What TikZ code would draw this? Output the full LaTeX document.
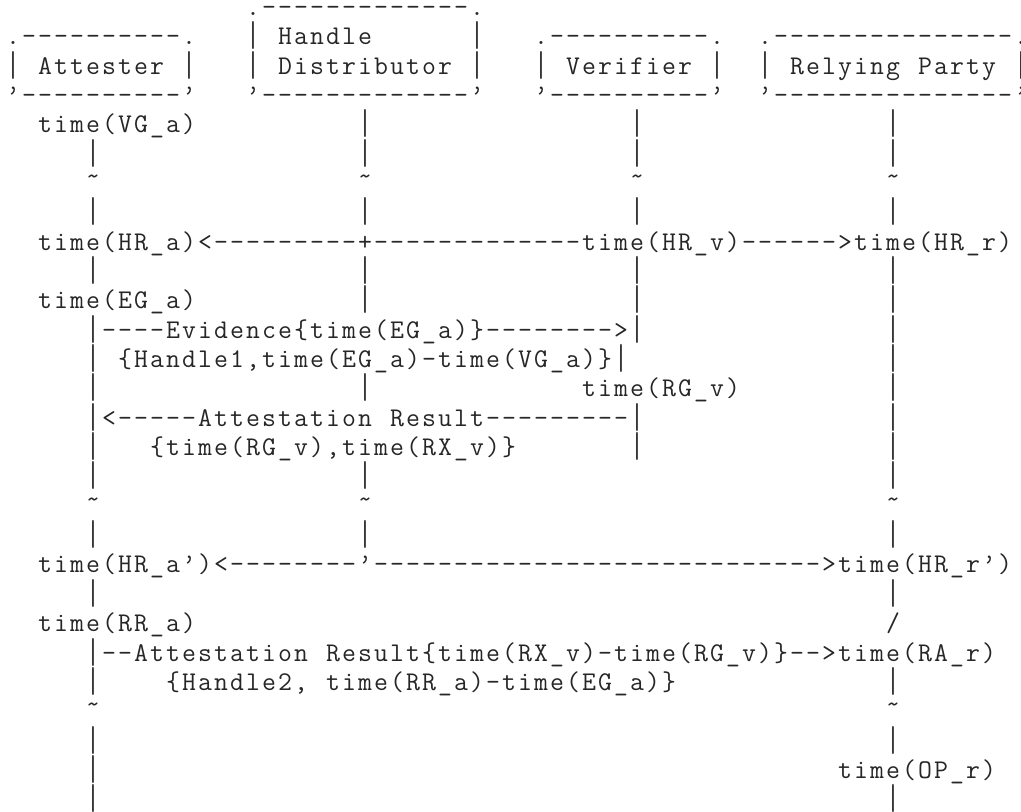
\documentclass[tikz,border=0pt]{standalone}
\usepackage{fontspec}
\usepackage{graphicx}
% a full-height vertical bar, so that bars in successive rows almost join
\NewDocumentCommand\vbar{}{\raisebox{-2.5pt}{\resizebox*{\width}{14pt}{\raisebox{\depth}{|}}}}
% Every character sits in a cell of fixed pitch (typewriter grid).
\ExplSyntaxOn
\cs_new:Npn \dashrun #1 { \prg_replicate:nn {#1} {-} }
\dim_new:N \l_grid_pitch_dim
\dim_set:Nn \l_grid_pitch_dim { 8pt }
\tl_new:N \l_grid_text_tl
\NewDocumentCommand \gridtext { m }
  {
    \tl_set:Nx \l_grid_text_tl {#1}
    \tl_map_inline:Nn \l_grid_text_tl
      {
        \hbox_to_wd:nn { \l_grid_pitch_dim }
          { \hss \str_if_eq:nnTF {##1} {|} { \vbar } {##1} \hss }
      }
  }
\ExplSyntaxOff
\NewDocumentCommand\uscore{}{\_}
\NewDocumentCommand\lbr{}{\{}
\NewDocumentCommand\rbr{}{\}}
\NewDocumentCommand\blank{}{\mbox{}}
\begin{document}
\begin{tikzpicture}[x=0.5pt,y=-0.5pt,
  asc/.style={anchor=base west, inner sep=0pt, outer sep=0pt,
    font=\ttfamily\fontsize{13.5pt}{14pt}\selectfont, text=black!85}]
% character grid: column c, row r
\newcommand\cellat[4]{\node[asc] (#1) at ({16*(#2)-43},{15.3+29.35*(#3)}) {\gridtext{#4}};}
\useasboundingbox (0,0) rectangle (1021,811);
\fill[white] (0,0) rectangle (1021,811);

% --- participant boxes ---
\cellat{hdtop}{18}{0}{.\dashrun{13}.}
\cellat{atttop}{3}{1}{.\dashrun{10}.}
\cellat{hdl1}{18}{1}{|}
\cellat{hdlabelA}{20}{1}{Handle}
\cellat{hdr1}{32}{1}{|}
\cellat{vertop}{36}{1}{.\dashrun{10}.}
\cellat{rptop}{50}{1}{.\dashrun{15}.}

\cellat{attl}{3}{2}{|}
\cellat{attlabel}{5}{2}{Attester}
\cellat{attr}{14}{2}{|}
\cellat{hdl2}{18}{2}{|}
\cellat{hdlabelB}{20}{2}{Distributor}
\cellat{hdr2}{32}{2}{|}
\cellat{verl}{36}{2}{|}
\cellat{verlabel}{38}{2}{Verifier}
\cellat{verr}{47}{2}{|}
\cellat{rpl}{50}{2}{|}
\cellat{rplabel}{52}{2}{Relying\blank Party}
\cellat{rpr}{66}{2}{|}

\cellat{attbot}{3}{3}{’\dashrun{10}’}
\cellat{hdbot}{18}{3}{’\dashrun{13}’}
\cellat{verbot}{36}{3}{’\dashrun{10}’}
\cellat{rpbot}{50}{3}{’\dashrun{15}’}

% --- lifelines ---
\foreach \r in {5,7,9,13,15,16,18,20,23,25,26,27} {\cellat{att-\r}{8}{\r}{|}}
\foreach \r in {6,17,24} {\cellat{att-gap-\r}{8}{\r}{˜}}
\foreach \r in {4,5,7,9,10,13,16,18} {\cellat{hd-\r}{25}{\r}{|}}
\foreach \r in {6,17} {\cellat{hd-gap-\r}{25}{\r}{˜}}
\foreach \r in {4,5,7,9,10,15} {\cellat{ver-\r}{42}{\r}{|}}
\cellat{ver-gap-6}{42}{6}{˜}
\foreach \r in {4,5,7,9,10,11,12,13,14,15,16,18,20,23,25,27} {\cellat{rp-\r}{58}{\r}{|}}
\foreach \r in {6,17,24} {\cellat{rp-gap-\r}{58}{\r}{˜}}
\cellat{rp-bend}{58}{21}{/}

% --- events and messages ---
\cellat{vga}{5}{4}{time(VG\uscore a)}
\cellat{handles}{5}{8}{time(HR\uscore a)<\dashrun{9}+\dashrun{13}time(HR\uscore v)\dashrun{6}>time(HR\uscore r)}
\cellat{ega}{5}{10}{time(EG\uscore a)}
\cellat{evidence}{8}{11}{|\dashrun{4}Evidence\lbr time(EG\uscore a)\rbr\dashrun{8}>|}
\cellat{ev-bar}{8}{12}{|}
\cellat{evidence-info}{10}{12}{\lbr Handle1,time(EG\uscore a)-time(VG\uscore a)\rbr|}
\cellat{rgv}{39}{13}{time(RG\uscore v)}
\cellat{result}{8}{14}{|<\dashrun{5}Attestation\blank Result\dashrun{9}|}
\cellat{result-info}{12}{15}{\lbr time(RG\uscore v),time(RX\uscore v)\rbr}
\cellat{handles2}{5}{19}{time(HR\uscore a’)<\dashrun{8}’\dashrun{28}>time(HR\uscore r’)}
\cellat{rra}{5}{21}{time(RR\uscore a)}
\cellat{passport}{8}{22}{|\dashrun{2}Attestation\blank Result\lbr time(RX\uscore v)-time(RG\uscore v)\rbr\dashrun{2}>time(RA\uscore r)}
\cellat{passport-info}{13}{23}{\lbr Handle2,\blank time(RR\uscore a)-time(EG\uscore a)\rbr}
\cellat{opr}{55}{26}{time(OP\uscore r)}
\end{tikzpicture}
\end{document}
